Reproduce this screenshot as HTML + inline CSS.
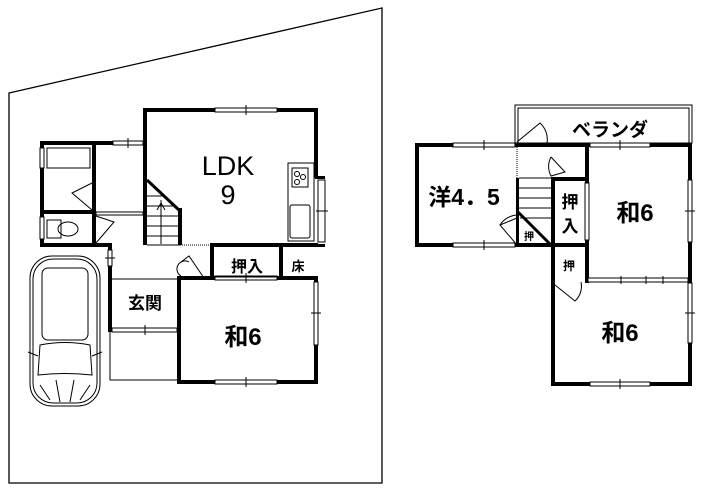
<!DOCTYPE html>
<html><head><meta charset="utf-8"><style>
html,body{margin:0;padding:0;background:#fff}
svg{display:block}
text{font-family:"Liberation Sans","Noto Sans CJK JP",sans-serif;font-weight:bold;fill:#000}
</style></head><body>
<svg width="701" height="491" viewBox="0 0 701 491" xmlns="http://www.w3.org/2000/svg">
<rect width="701" height="491" fill="#fff"/>
<polygon points="9,93 382,8 382,483 9,483" fill="none" stroke="#000" stroke-width="1.3"/>

<g fill="#000">
<rect x="143" y="108" width="175" height="4"/>
<rect x="143" y="108" width="4" height="137"/>
<rect x="314" y="108" width="4" height="70"/>
<rect x="210" y="243" width="108" height="4"/>
<rect x="178" y="208" width="4" height="37"/>
<rect x="315" y="176" width="10" height="3"/>
<rect x="315" y="244" width="10" height="3"/>
<rect x="40" y="141" width="73" height="4"/>
<rect x="40" y="141" width="4" height="106"/>
<rect x="92" y="141" width="4" height="106"/>
<rect x="40" y="210" width="56" height="4"/>
<rect x="40" y="243" width="72" height="4"/>
<rect x="108" y="243" width="4" height="89"/>
<rect x="177" y="276" width="141" height="4"/>
<rect x="177" y="276" width="4" height="108"/>
<rect x="177" y="380" width="141" height="4"/>
<rect x="314" y="276" width="4" height="108"/>
<rect x="210" y="243" width="4" height="37"/>
<rect x="279" y="243" width="4" height="37"/>
<rect x="415" y="143" width="102" height="4"/>
<rect x="415" y="143" width="4" height="104"/>
<rect x="415" y="243" width="138" height="4"/>
<rect x="515" y="143" width="177" height="4"/>
<rect x="688" y="143" width="4" height="243"/>
<rect x="551" y="177" width="4" height="209"/>
<rect x="551" y="382" width="141" height="4"/>
<rect x="551" y="177" width="37" height="4"/>
<rect x="585" y="143" width="4" height="140"/>
<rect x="551" y="243" width="37" height="4"/>
<rect x="516" y="178" width="3" height="67"/>
</g>
<g fill="#fff" stroke="#000" stroke-width="1">
<rect x="215" y="108" width="62" height="4"/>
<rect x="215" y="276" width="62" height="4"/>
<rect x="215" y="380" width="62" height="4"/>
<rect x="314" y="282" width="4" height="63"/>
<rect x="318" y="180" width="7" height="62"/>
<rect x="40" y="148" width="4" height="20"/>
<rect x="40" y="217" width="4" height="22"/>
<rect x="113" y="141" width="30" height="4"/>
<rect x="96" y="212" width="47" height="3"/>
<rect x="108" y="250" width="4" height="16"/>
<rect x="112" y="328" width="65" height="4"/>
<rect x="453" y="143" width="62" height="4"/>
<rect x="453" y="243" width="62" height="4"/>
<rect x="590" y="143" width="60" height="4"/>
<rect x="590" y="382" width="60" height="4"/>
<rect x="688" y="180" width="4" height="62"/>
<rect x="688" y="283" width="4" height="60"/>
<rect x="585" y="183" width="4" height="57"/>
<rect x="588" y="278" width="100" height="4"/>
</g>
<g stroke="#000" stroke-width="1" fill="none">
<line x1="246" y1="105" x2="246" y2="115"/><line x1="246" y1="273" x2="246" y2="283"/><line x1="246" y1="377" x2="246" y2="387"/>
<line x1="311" y1="313" x2="321" y2="313"/><line x1="316" y1="211" x2="328" y2="211"/>
<line x1="128" y1="138" x2="128" y2="148"/><line x1="145" y1="325" x2="145" y2="335"/><line x1="105" y1="258" x2="115" y2="258"/>
<line x1="484" y1="140" x2="484" y2="150"/><line x1="484" y1="240" x2="484" y2="250"/><line x1="620" y1="140" x2="620" y2="150"/><line x1="620" y1="379" x2="620" y2="389"/>
<line x1="685" y1="211" x2="695" y2="211"/><line x1="685" y1="313" x2="695" y2="313"/>
<line x1="621" y1="276" x2="621" y2="284"/><line x1="646" y1="276" x2="646" y2="284"/><line x1="663" y1="276" x2="663" y2="284"/>
<line x1="147" y1="180" x2="180" y2="211" stroke-width="3"/>
<line x1="147" y1="245" x2="181" y2="245"/>
<line x1="182" y1="245" x2="210" y2="245" stroke-dasharray="1,1"/>
<line x1="147" y1="196" x2="164" y2="196"/><line x1="147" y1="206" x2="175" y2="206"/><line x1="147" y1="216" x2="178" y2="216"/><line x1="147" y1="226" x2="178" y2="226"/><line x1="147" y1="236" x2="178" y2="236"/>
<line x1="161" y1="200" x2="161" y2="244"/><polyline points="157,210 161,203 165,210"/>
<rect x="288" y="163" width="26" height="78"/>
<rect x="292" y="168" width="16" height="19"/>
<circle cx="297" cy="174" r="2.5"/><circle cx="303" cy="177" r="2.5"/><circle cx="297" cy="182" r="2.5"/>
<rect x="290" y="205" width="20" height="33" rx="2"/>
<rect x="47" y="148" width="43" height="20"/>
<path d="M92,183 L72,193 L92,210"/>
<rect x="47" y="220" width="14" height="18"/><ellipse cx="68" cy="229" rx="10" ry="7"/>
<path d="M96,216 L114,222 L96,243"/>
<line x1="112" y1="279" x2="177" y2="279"/>
<polyline points="110,332 110,380 177,380"/>
<path d="M181,262 L189,256 L204,278"/><path d="M181,276 A8,8 0 0 1 189,262"/>
<line x1="214" y1="277" x2="279" y2="277"/>
<rect x="515" y="105" width="177" height="38"/>
<rect x="518" y="108" width="171" height="35"/>
<path d="M517,142 L540,123 A22,22 0 0 1 547,143"/>
<line x1="517" y1="147" x2="517" y2="178" stroke-dasharray="1,1"/>
<path d="M551,157 L565,172 L551,176 A20,20 0 0 1 551,157" />
<path d="M555,285 L575,301 A20,20 0 0 0 581,282"/>
<line x1="519" y1="178" x2="551" y2="178"/><line x1="519" y1="188" x2="551" y2="188"/><line x1="519" y1="198" x2="551" y2="198"/><line x1="519" y1="208" x2="551" y2="208"/><line x1="520" y1="218" x2="551" y2="218"/>
<line x1="518" y1="212" x2="551" y2="245" stroke-width="3"/>
<path d="M517,218 L500,225 L517,245"/><path d="M500,225 A22,22 0 0 1 517,215"/>
<rect x="30" y="256" width="70" height="150" rx="22"/>
<rect x="33" y="259" width="64" height="144" rx="20"/>
<rect x="42" y="268" width="46" height="72" rx="6"/>
<path d="M40,345 Q65,340 90,345 L92,375 Q65,372 38,375 Z"/>
<path d="M28,352 L38,356 M102,352 L92,356"/>
<path d="M40,385 L50,400 M90,385 L80,400 M56,380 L60,402 M74,380 L70,402"/>
</g>
<text x="228" y="175" font-size="27" text-anchor="middle" style="font-weight:normal">LDK</text>
<text x="228" y="204" font-size="27" text-anchor="middle" style="font-weight:normal">9</text>
<text x="247" y="272" font-size="16" text-anchor="middle">押入</text>
<text x="298" y="271" font-size="13" text-anchor="middle">床</text>
<text x="145" y="309" font-size="17" text-anchor="middle">玄関</text>
<text x="243" y="345" font-size="24" text-anchor="middle">和6</text>
<text x="464" y="205" font-size="23" text-anchor="middle">洋4．5</text>
<text x="570" y="208" font-size="17" text-anchor="middle">押</text>
<text x="570" y="232" font-size="17" text-anchor="middle">入</text>
<text x="529" y="240" font-size="10" text-anchor="middle">押</text>
<text x="569" y="270" font-size="12" text-anchor="middle">押</text>
<text x="635" y="221" font-size="24" text-anchor="middle">和6</text>
<text x="620" y="341" font-size="24" text-anchor="middle">和6</text>
<text x="610" y="136" font-size="19" text-anchor="middle">ベランダ</text>
</svg>
</body></html>
